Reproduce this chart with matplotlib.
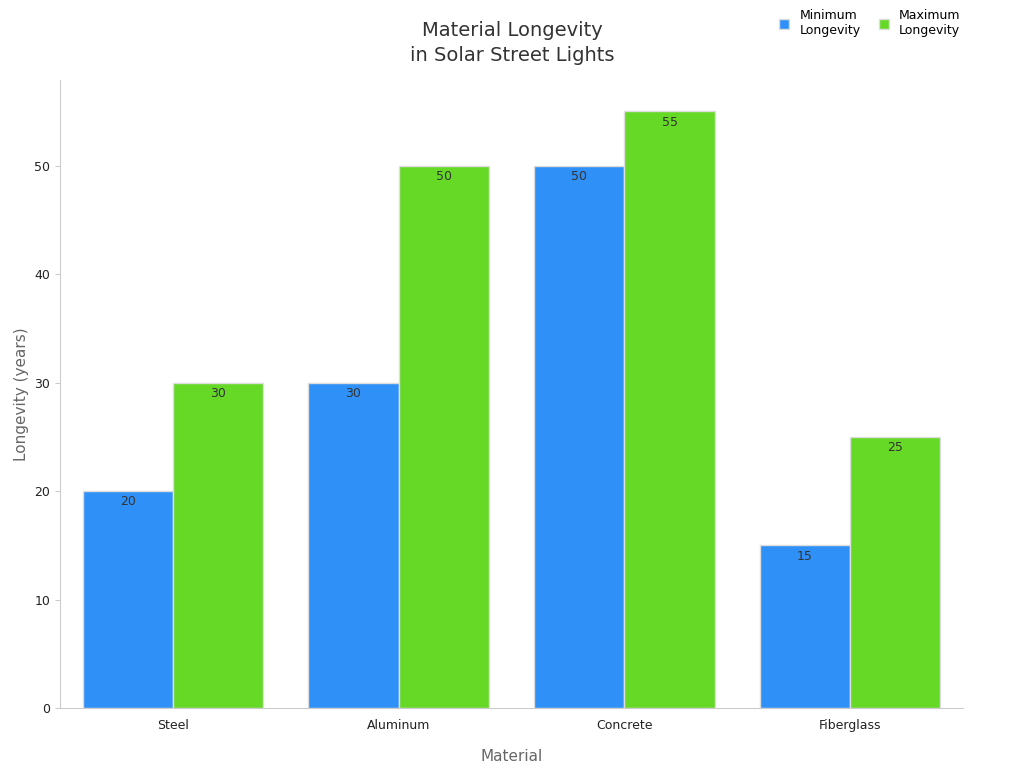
import numpy as np
import matplotlib
matplotlib.use('Agg')
import matplotlib.pyplot as plt

materials = ["Steel", "Aluminum", "Concrete", "Fiberglass"]
min_longevity = [20, 30, 50, 15]
max_longevity = [30, 50, 55, 25]

fig = plt.figure(figsize=(10.24, 7.68), dpi=100)
ax = fig.add_axes([0.0586, 0.078, 0.8818, 0.818])

x = np.arange(len(materials))
w = 0.4
b1 = ax.bar(x - w / 2, min_longevity, w, color='#2f91f7', edgecolor='#dddddd', linewidth=1, label='Minimum\nLongevity')
b2 = ax.bar(x + w / 2, max_longevity, w, color='#66d926', edgecolor='#dddddd', linewidth=1, label='Maximum\nLongevity')

for bars in (b1, b2):
    for r in bars:
        ax.text(r.get_x() + r.get_width() / 2, r.get_height() - 0.4, f"{int(r.get_height())}",
                ha='center', va='top', fontsize=9, color='#333333')

ax.set_xlim(-0.5, 3.5)
ax.set_ylim(0, 57.9)
ax.set_xticks(x)
ax.set_xticklabels(materials)
ax.set_yticks([0, 10, 20, 30, 40, 50])
ax.tick_params(labelsize=9, colors='#222222')
ax.tick_params(axis='x', length=0, pad=8)
ax.tick_params(axis='y', color='#cccccc')
for s in ('top', 'right'):
    ax.spines[s].set_visible(False)
for s in ('left', 'bottom'):
    ax.spines[s].set_color('#cccccc')

ax.set_xlabel("Material", fontsize=11, color='#666666', labelpad=12)
ax.set_ylabel("Longevity (years)", fontsize=11, color='#666666')
fig.text(0.5, 0.915, "Material Longevity\nin Solar Street Lights", ha='center', va='bottom',
         fontsize=14, color='#333333', linespacing=1.4)

ax.legend(loc='upper right', bbox_to_anchor=(1.01, 1.13), ncol=2, frameon=False, fontsize=9,
          handlelength=0.8, handleheight=0.8, columnspacing=1.5)

plt.savefig("out.png", dpi=100)
